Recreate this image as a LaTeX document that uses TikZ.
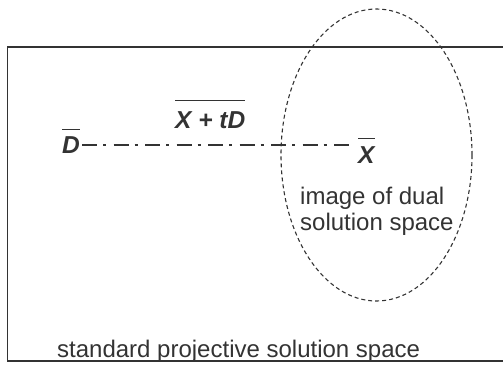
\documentclass[tikz,border=0pt]{standalone}
\usepackage{fontspec}
\setmainfont{Liberation Sans}
\usetikzlibrary{shapes.geometric}
\definecolor{ink}{HTML}{333333}
\newcommand\obar[2]{$\overline{\rule{0pt}{#1pt}\hbox{\bfseries\itshape #2}}$}
\tikzset{
  lbl/.style={inner sep=0pt, text=ink, font=\fontsize{24}{26}\selectfont},
  sym/.style={inner sep=0pt, text=ink, font=\fontsize{24.5}{27}\selectfont},
  frame/.style={draw=ink, line width=1.6pt},
  dualset/.style={ellipse, draw=ink, line width=1.1pt, dash pattern=on 4pt off 3pt, inner sep=0pt},
  ray/.style={draw=ink, line width=1.3pt, dash pattern=on 15pt off 6pt on 3pt off 7.5pt},
}
\begin{document}
\begin{tikzpicture}[x=1pt,y=-1pt]
\useasboundingbox (0,0) rectangle (503,364);
\draw[frame] (503,47) -- (7.5,47) -- (7.5,361) -- (503,361);
\node[dualset, minimum width=191pt, minimum height=292pt] (dual) at (376.5,155) {};
\node[sym, anchor=base west] (D) at (62,153) {\obar{22.5}{D}};
\node[sym, anchor=base west] (X) at (358,163) {\obar{23.5}{X}};
\node[sym, anchor=base west] (XtD) at (175,128) {\obar{26}{X + tD}};
\node[lbl, anchor=north west, align=left] (img) at (300,187) {image of dual\\solution space};
\node[lbl, anchor=base west] (std) at (57,357) {standard projective solution space};
\draw[ray] ([xshift=2pt,yshift=8pt]D.base east) -- ([xshift=-7pt,yshift=18pt]X.base west);
\end{tikzpicture}
\end{document}
